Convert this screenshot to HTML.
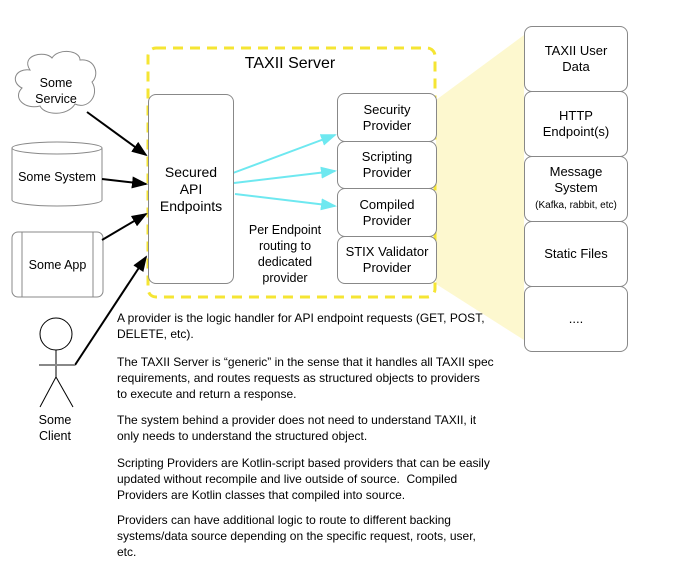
<!DOCTYPE html>
<html><head><style>
body{margin:0;background:#fff;font-family:"Liberation Sans",sans-serif;}
.t{position:absolute;font-size:12.5px;color:#000;text-align:center;line-height:16px;}
.p{position:absolute;left:117px;font-size:12px;line-height:16px;color:#000;white-space:nowrap;}
.b{position:absolute;border:1px solid #888;border-radius:8px;background:#fff;box-sizing:border-box;display:flex;align-items:center;justify-content:center;text-align:center;font-size:13px;line-height:16px;}
</style></head><body>
<svg width="676" height="569" style="position:absolute;left:0;top:0">
<defs>
<marker id="a" markerWidth="8" markerHeight="6" refX="7" refY="3" orient="auto"><path d="M0,0L8,3L0,6z" fill="#000"/></marker>
<marker id="c" markerWidth="8" markerHeight="6" refX="7" refY="3" orient="auto"><path d="M0,0L8,3L0,6z" fill="#6ee8f0"/></marker>
</defs>
<polygon points="436,100 524,35 524,340 436,284" fill="#fdf8cf"/>
<rect x="148" y="48" width="287" height="249" rx="8" fill="none" stroke="#f5e533" stroke-width="3" stroke-dasharray="10,7"/>
<path d="M30,70 C20,55 45,50 52,58 C58,48 80,50 80,60 C95,58 100,75 92,82 C100,95 88,110 75,104 C68,116 45,116 40,106 C25,110 12,98 22,88 C10,82 15,68 30,70Z" fill="#fff" stroke="#888"/>
<path d="M12,148 L12,200 A45,6 0 0 0 102,200 L102,148" fill="#fff" stroke="#888"/>
<ellipse cx="57" cy="148" rx="45" ry="6" fill="#fff" stroke="#888"/>
<rect x="12" y="232" width="91" height="65" rx="6" fill="#fff" stroke="#888"/>
<line x1="22" y1="232" x2="22" y2="297" stroke="#888"/><line x1="93" y1="232" x2="93" y2="297" stroke="#888"/>
<line x1="87" y1="112" x2="146" y2="155" stroke="#000" stroke-width="2" marker-end="url(#a)"/>
<line x1="102" y1="179" x2="146" y2="184" stroke="#000" stroke-width="2" marker-end="url(#a)"/>
<line x1="102" y1="240" x2="146" y2="214" stroke="#000" stroke-width="2" marker-end="url(#a)"/>
<polyline points="75,365 146,257" fill="none" stroke="#000" stroke-width="2" marker-end="url(#a)"/>
<line x1="233" y1="173" x2="335" y2="135" stroke="#6ee8f0" stroke-width="2" marker-end="url(#c)"/>
<line x1="234" y1="183" x2="335" y2="171" stroke="#6ee8f0" stroke-width="2" marker-end="url(#c)"/>
<line x1="235" y1="194" x2="335" y2="206" stroke="#6ee8f0" stroke-width="2" marker-end="url(#c)"/>
<circle cx="56" cy="334" r="16" fill="#fff" stroke="#000"/>
<line x1="56" y1="350" x2="56" y2="377" stroke="#000"/>
<line x1="39" y1="365" x2="75" y2="365" stroke="#888" stroke-width="2"/>
<line x1="56" y1="377" x2="40" y2="407" stroke="#000"/><line x1="56" y1="377" x2="73" y2="407" stroke="#000"/>
</svg>
<div class="t" style="left:15px;top:75px;width:82px">Some<br>Service</div>
<div class="t" style="left:12px;top:169px;width:90px">Some System</div>
<div class="t" style="left:12px;top:257px;width:91px">Some App</div>
<div class="t" style="left:25px;top:412px;width:60px">Some<br>Client</div>
<div class="t" style="left:220px;top:54px;width:140px;font-size:16px;line-height:20px">TAXII Server</div>
<div class="b" style="left:148px;top:94px;width:86px;height:190px;font-size:14px;line-height:17px">Secured<br>API<br>Endpoints</div>
<div class="t" style="left:235px;top:222px;width:100px">Per Endpoint<br>routing to<br>dedicated<br>provider</div>
<div class="b" style="left:337px;top:93px;width:100px;height:49px">Security<br>Provider</div>
<div class="b" style="left:337px;top:141px;width:100px;height:48px">Scripting<br>Provider</div>
<div class="b" style="left:337px;top:188px;width:100px;height:49px">Compiled<br>Provider</div>
<div class="b" style="left:337px;top:236px;width:100px;height:48px">STIX Validator<br>Provider</div>
<div class="b" style="left:524px;top:26px;width:104px;height:66px">TAXII User<br>Data</div>
<div class="b" style="left:524px;top:91px;width:104px;height:66px">HTTP<br>Endpoint(s)</div>
<div class="b" style="left:524px;top:156px;width:104px;height:66px"><div>Message<br>System<br><span style="font-size:10px">(Kafka, rabbit, etc)</span></div></div>
<div class="b" style="left:524px;top:221px;width:104px;height:66px">Static Files</div>
<div class="b" style="left:524px;top:286px;width:104px;height:66px">....</div>
<div class="p" style="top:310px">A provider is the logic handler for API endpoint requests (GET, POST,<br>DELETE, etc).</div>
<div class="p" style="top:354px">The TAXII Server is “generic” in the sense that it handles all TAXII spec<br>requirements, and routes requests as structured objects to providers<br>to execute and return a response.</div>
<div class="p" style="top:412px">The system behind a provider does not need to understand TAXII, it<br>only needs to understand the structured object.</div>
<div class="p" style="top:455px">Scripting Providers are Kotlin-script based providers that can be easily<br>updated without recompile and live outside of source.&nbsp; Compiled<br>Providers are Kotlin classes that compiled into source.</div>
<div class="p" style="top:512px">Providers can have additional logic to route to different backing<br>systems/data source depending on the specific request, roots, user,<br>etc.</div>
</body></html>
